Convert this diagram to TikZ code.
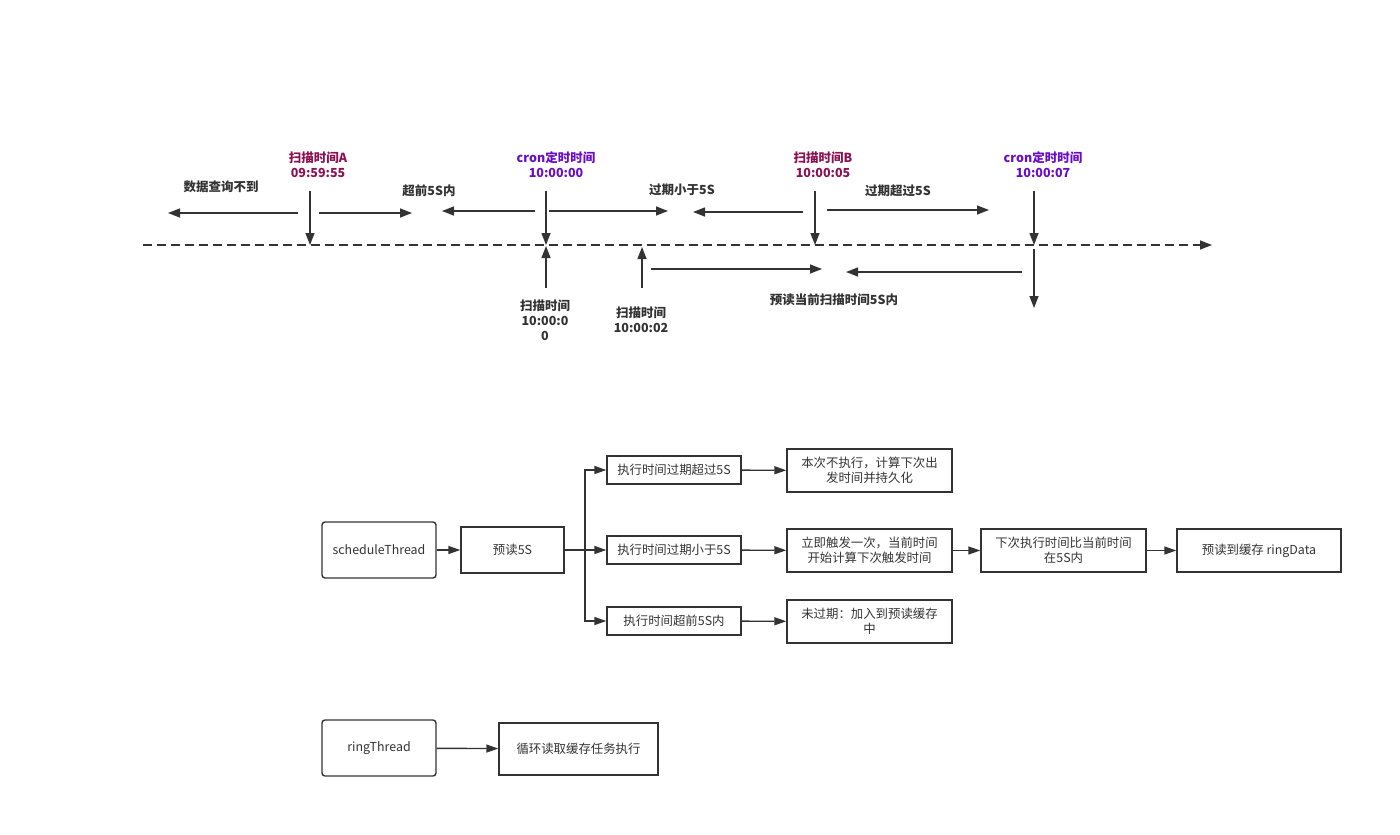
\documentclass[tikz,border=0pt]{standalone}
\usepackage{fontspec}
\setmainfont{Noto Sans CJK SC}
\usetikzlibrary{arrows.meta,positioning}

\definecolor{linegray}{HTML}{333333}
\definecolor{scanred}{HTML}{8C1152}
\definecolor{cronpurple}{HTML}{6A0CC4}

\tikzset{
  tip/.style={-{Triangle[length=12pt,width=9pt]}},
  tl/.style={draw=linegray, line width=1.4pt, tip},
  lbl/.style={font=\bfseries\fontsize{12.5}{15}\selectfont, text=linegray, align=center, inner sep=0pt},
  box/.style={draw=linegray, line width=1.4pt, text=linegray, align=center, inner sep=0pt,
    font=\fontsize{12.4}{15}\selectfont},
  thread/.style={box, rounded corners=3pt, minimum width=114pt, minimum height=56pt},
  flow/.style={draw=linegray, line width=1.4pt, -{Triangle[length=12pt,width=8pt]}}
}

\begin{document}
\begin{tikzpicture}[x=1pt, y=-1pt]
    \useasboundingbox (0,0) rectangle (1400,835);

    % time line
    \coordinate (LineStart) at (143,245);
    \coordinate (LineEnd) at (1212,245);
    \draw[tl, dash pattern=on 9pt off 5pt, line width=1.5pt] (LineStart) -- (LineEnd);

    % marks above the line
    \node[lbl, text=scanred] (ScanA) at (318,164.5) {扫描时间A\\09:59:55};
    \node[lbl, text=cronpurple] (CronA) at (556,164.5) {cron定时时间\\10:00:00};
    \node[lbl, text=scanred] (ScanB) at (823,164.5) {扫描时间B\\10:00:05};
    \node[lbl, text=cronpurple] (CronB) at (1043,164.5) {cron定时时间\\10:00:07};

    \coordinate (TopA) at (310,191);   \coordinate (HitA) at (310,245);
    \coordinate (TopC) at (546,191);   \coordinate (HitC) at (546,245);
    \coordinate (TopB) at (815,191);   \coordinate (HitB) at (815,245);
    \coordinate (TopD) at (1034,191);  \coordinate (HitD) at (1034,245);
    \draw[tl] (TopA) -- (HitA);
    \draw[tl] (TopC) -- (HitC);
    \draw[tl] (TopB) -- (HitB);
    \draw[tl] (TopD) -- (HitD);

    % ranges above the line
    \node[lbl] (NoData) at (221,187) {数据查询不到};
    \node[lbl] (Ahead) at (429,191) {超前5S内};
    \node[lbl] (LessFive) at (682,190) {过期小于5S};
    \node[lbl] (MoreFive) at (898,191) {过期超过5S};

    \coordinate (R1s) at (298,213);  \coordinate (R1e) at (168,213);
    \coordinate (R2s) at (319,213);  \coordinate (R2e) at (412,213);
    \coordinate (R3s) at (535,211);  \coordinate (R3e) at (442,211);
    \coordinate (R4s) at (549,211);  \coordinate (R4e) at (668,211);
    \coordinate (R5s) at (803,212);  \coordinate (R5e) at (693,212);
    \coordinate (R6s) at (827,210);  \coordinate (R6e) at (989,210);
    \draw[tl] (R1s) -- (R1e);
    \draw[tl] (R2s) -- (R2e);
    \draw[tl] (R3s) -- (R3e);
    \draw[tl] (R4s) -- (R4e);
    \draw[tl] (R5s) -- (R5e);
    \draw[tl] (R6s) -- (R6e);

    % marks below the line
    \coordinate (LowC) at (546,288);  \coordinate (UpC) at (546,246);
    \coordinate (LowS) at (642,288);  \coordinate (UpS) at (642,247);
    \coordinate (DownD) at (1034,249);  \coordinate (EndD) at (1034,308);
    \draw[tl] (LowC) -- (UpC);
    \draw[tl] (LowS) -- (UpS);
    \draw[tl] (DownD) -- (EndD);

    \node[lbl] (ScanC) at (545,320) {扫描时间\\10:00:0\\0};
    \node[lbl] (ScanS) at (641,319.5) {扫描时间\\10:00:02};

    \coordinate (P1s) at (651,269);   \coordinate (P1e) at (822,269);
    \coordinate (P2s) at (1022,272);  \coordinate (P2e) at (846,272);
    \draw[tl] (P1s) -- (P1e);
    \draw[tl] (P2s) -- (P2e);
    \node[lbl] (PreRead) at (834,300) {预读当前扫描时间5S内};

    % scheduleThread
    \node[thread] (schedule) at (379,550) {scheduleThread};
    \node[box, minimum width=103pt, minimum height=46pt] (pre) at (512.5,550) {预读5S};
    \draw[flow] (schedule) -- (pre);

    \node[box, minimum width=134pt, minimum height=28pt] (over) at (674,470) {执行时间过期超过5S};
    \node[box, minimum width=134pt, minimum height=28pt] (less) at (674,550) {执行时间过期小于5S};
    \node[box, minimum width=134pt, minimum height=28pt] (ahead) at (674,621) {执行时间超前5S内};

    \draw[line width=1.4pt, draw=linegray] (pre.east) -- (585,550) coordinate (fork);
    \draw[flow] (fork) |- (over.west);
    \draw[flow] (fork) -- (less.west);
    \draw[flow] (fork) |- (ahead.west);

    \node[box, minimum width=165pt, minimum height=43pt] (skip) at (869.5,470.5) {本次不执行，计算下次出\\发时间并持久化};
    \node[box, minimum width=165pt, minimum height=43pt] (fire) at (869.5,550.5) {立即触发一次，当前时间\\开始计算下次触发时间};
    \node[box, minimum width=165pt, minimum height=43pt] (cache) at (869.5,621.5) {未过期：加入到预读缓存\\中};
    \draw[flow] (over) -- (skip);
    \draw[flow] (less) -- (fire);
    \draw[flow] (ahead) -- (cache);

    \node[box, minimum width=165pt, minimum height=43pt] (next) at (1063.5,550.5) {下次执行时间比当前时间\\在5S内};
    \node[box, minimum width=164pt, minimum height=43pt] (ring) at (1259,550.5) {预读到缓存 ringData};
    \draw[flow] (fire) -- (next);
    \draw[flow] (next) -- (ring);

    % ringThread
    \node[thread] (ringthread) at (379,748) {ringThread};
    \node[box, minimum width=159pt, minimum height=52pt] (loop) at (578.5,749) {循环读取缓存任务执行};
    \draw[flow] (ringthread) -- (loop);

\end{tikzpicture}
\end{document}
